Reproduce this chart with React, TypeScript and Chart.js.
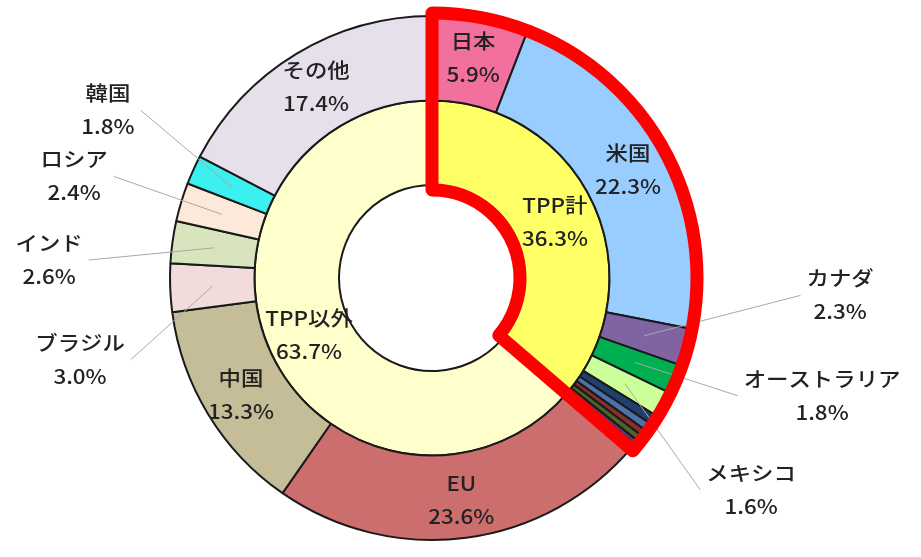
import { useEffect, useRef } from "react";
import { Chart, registerables } from "chart.js";

Chart.register(...registerables);

// ---- data ----
const outerCategories = [
  "日本", "米国", "カナダ", "オーストラリア", "メキシコ",
  "マレーシア", "シンガポール", "ベトナム", "チリ", "ペルー", "ニュージーランド",
  "EU", "中国", "ブラジル", "インド", "ロシア", "韓国", "その他",
];
const outerValues = [
  5.9, 22.3, 2.3, 1.8, 1.6,
  0.6, 0.5, 0.4, 0.4, 0.3, 0.2,
  23.6, 13.3, 3.0, 2.6, 2.4, 1.8, 17.4,
];
const outerColors = [
  "#F2709E", "#99CCFF", "#8064A2", "#00B050", "#CCFF99",
  "#1F3F6E", "#4F6FA8", "#8B2E2E", "#4F6228", "#5A3A6E", "#1E4E5A",
  "#CD6E6E", "#C4BD97", "#F2DCDB", "#D7E4BD", "#FDE9D9", "#3CF0F0", "#E6E0EC",
];
const innerCategories = ["TPP計", "TPP以外"];
const innerValues = [36.3, 63.7];
const innerColors = ["#FFFF66", "#FFFFCC"];

// ---- label layout (not data) ----
const insideOuterLabels = ["日本", "米国", "EU", "中国", "その他"];
const outsideLabelLayout = [
  { name: "韓国", dAngle: 3, dist: 1.393 },
  { name: "ロシア", dAngle: -1, dist: 1.42 },
  { name: "インド", dAngle: -5.2, dist: 1.463 },
  { name: "ブラジル", dAngle: -10.9, dist: 1.379 },
  { name: "カナダ", dAngle: -12.8, dist: 1.559 },
  { name: "オーストラリア", dAngle: -5.8, dist: 1.555 },
  { name: "メキシコ", dAngle: 4.9, dist: 1.462 },
];

const FONT = '500 20px "Noto Sans CJK JP", "Noto Sans", sans-serif';
const TEXT_STRETCH = 1.12;
const LINE_GAP = 33;
const TEXT_COLOR = "#222222";

const pct = (v: number) => v.toFixed(1) + "%";

const annotatePlugin = {
  id: "annotate",
  afterDatasetsDraw(chart: any) {
    const ctx: CanvasRenderingContext2D = chart.ctx;
    const outerMeta = chart.getDatasetMeta(0);
    const innerMeta = chart.getDatasetMeta(1);
    ctx.save();
    ctx.font = FONT;
    const measure = (s: string) => ctx.measureText(s).width * TEXT_STRETCH;

    const drawBlock = (name: string, value: number, x: number, y: number) => {
      ctx.fillStyle = TEXT_COLOR;
      ctx.textAlign = "center";
      ctx.textBaseline = "middle";
      [name, pct(value)].forEach((t, i) => {
        ctx.save();
        ctx.translate(x, y + (i - 0.5) * LINE_GAP);
        ctx.scale(TEXT_STRETCH, 1);
        ctx.fillText(t, 0, 0);
        ctx.restore();
      });
    };

    // leader lines for outside labels
    const blocks: { name: string; value: number; x: number; y: number }[] = [];
    outsideLabelLayout.forEach((l) => {
      const i = outerCategories.indexOf(l.name);
      const arc = outerMeta.data[i];
      const { x, y, startAngle, endAngle, outerRadius } = arc.getProps(
        ["x", "y", "startAngle", "endAngle", "outerRadius"],
        true
      );
      const mid = (startAngle + endAngle) / 2 + (l.dAngle * Math.PI) / 180;
      const bx = x + Math.cos(mid) * outerRadius * l.dist;
      const by = y + Math.sin(mid) * outerRadius * l.dist;
      const half = Math.max(measure(l.name), measure(pct(outerValues[i]))) / 2 + 6;
      const ex = bx < x ? bx + half : bx - half;
      const c = arc.getCenterPoint(true);
      ctx.beginPath();
      ctx.strokeStyle = "#A8A8A8";
      ctx.lineWidth = 1;
      ctx.moveTo(c.x, c.y);
      ctx.lineTo(ex, by);
      ctx.stroke();
      blocks.push({ name: l.name, value: outerValues[i], x: bx, y: by });
    });

    // red outline around TPP sector
    const tppArc = innerMeta.data[0];
    const tp = tppArc.getProps(["x", "y", "startAngle", "endAngle", "innerRadius"], true);
    const outerR = outerMeta.data[0].getProps(["outerRadius"], true).outerRadius;
    ctx.beginPath();
    ctx.arc(tp.x, tp.y, outerR + 3, tp.startAngle, tp.endAngle);
    ctx.arc(tp.x, tp.y, tp.innerRadius - 5, tp.endAngle, tp.startAngle, true);
    ctx.closePath();
    ctx.strokeStyle = "#FF0000";
    ctx.lineWidth = 13;
    ctx.lineJoin = "round";
    ctx.stroke();

    // inside labels (outer ring)
    insideOuterLabels.forEach((name) => {
      const i = outerCategories.indexOf(name);
      const arc = outerMeta.data[i];
      const { x, y, startAngle, endAngle, innerRadius, outerRadius } = arc.getProps(
        ["x", "y", "startAngle", "endAngle", "innerRadius", "outerRadius"],
        true
      );
      const mid = (startAngle + endAngle) / 2;
      const r = (innerRadius + outerRadius) / 2 + 4;
      drawBlock(name, outerValues[i], x + Math.cos(mid) * r, y + Math.sin(mid) * r);
    });

    // inner ring labels
    innerCategories.forEach((name, i) => {
      const c = innerMeta.data[i].getCenterPoint(true);
      drawBlock(name, innerValues[i], c.x, c.y);
    });

    // outside labels
    blocks.forEach((b) => drawBlock(b.name, b.value, b.x, b.y));
    ctx.restore();
  },
};

export default function App() {
  const ref = useRef<HTMLCanvasElement | null>(null);
  useEffect(() => {
    if (!ref.current) return;
    const chart = new Chart(ref.current, {
      type: "doughnut",
      data: {
        labels: outerCategories,
        datasets: [
          {
            data: outerValues,
            backgroundColor: outerColors,
            borderColor: "#1A1A1A",
            borderWidth: 2,
          },
          {
            data: innerValues,
            backgroundColor: innerColors,
            borderColor: "#1A1A1A",
            borderWidth: 2,
          },
        ],
      },
      options: {
        responsive: false,
        animation: false,
        radius: 262,
        cutout: "35.5%",
        layout: { padding: { left: 0, right: 57, top: 0, bottom: 1 } },
        plugins: {
          legend: { display: false },
          tooltip: { enabled: false },
        },
      } as any,
      plugins: [annotatePlugin],
    });
    return () => chart.destroy();
  }, []);
  return (
    <canvas
      ref={ref}
      width={921}
      height={557}
      style={{ position: "fixed", left: 0, top: 0, width: 921, height: 557, background: "#fff" }}
    />
  );
}
